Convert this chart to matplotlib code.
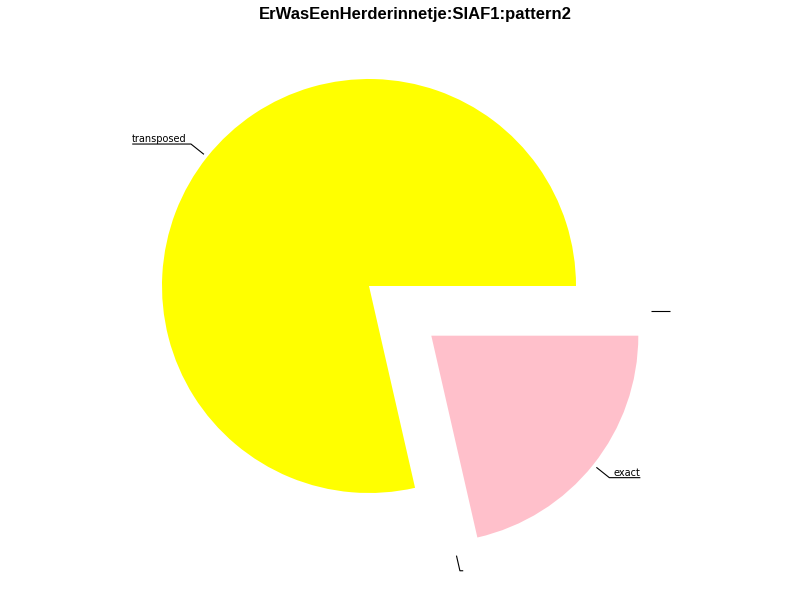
import numpy as np
import matplotlib
matplotlib.use("Agg")
import matplotlib.pyplot as plt

# ---- data ----
title = "ErWasEenHerderinnetje:SIAF1:pattern2"
labels = ["transposed", "", "exact", ""]
values = [11, 0, 3, 0]
colors = ["#FFFF00", "#FFFF00", "#FFC0CB", "#FFC0CB"]
explode = [0, 0, 0.385, 0]

PX = 207.0  # pixels per data unit (pie radius)
fig = plt.figure(figsize=(8, 6), dpi=100)
ax = fig.add_axes([0, 0, 1, 1])
wedges, _ = ax.pie(values, labels=None, colors=colors, explode=explode,
                   startangle=0, counterclock=True, radius=1.0,
                   wedgeprops=dict(linewidth=0))
ax.set_aspect("auto")
ax.set_xlim(-369 / PX, 431 / PX)
ax.set_ylim(-314 / PX, 286 / PX)
ax.axis("off")

fig.text(415 / 800, 1 - 18.5 / 600, title, ha="center", va="baseline",
         fontsize=12, fontweight="bold",
         family=["Liberation Sans", "DejaVu Sans"])

# mid angles of each slice
total = float(sum(values))
bounds = np.concatenate([[0], np.cumsum(values)]) / total * 360.0
mids = (bounds[:-1] + bounds[1:]) / 2.0
exp_idx = int(np.argmax(explode))
exp_mag = explode[exp_idx]

renderer = fig.canvas.get_renderer()
pad, lift = 0.02, 0.01
for i, (lab, ang) in enumerate(zip(labels, mids)):
    if values[i] == 0:
        d, e = (ang + mids[exp_idx]) / 2.0, exp_mag * 0.96
        r_start, r_elbow, p = 1.015, 1.09, 0.016
    else:
        d, e = ang, explode[i]
        r_start, r_elbow, p = 1.02, 1.1, pad
    cx = e * np.cos(np.radians(d))
    cy = e * np.sin(np.radians(d))
    ca, sa = np.cos(np.radians(ang)), np.sin(np.radians(ang))
    x0, y0 = cx + r_start * ca, cy + r_start * sa
    x1, y1 = cx + r_elbow * ca, cy + r_elbow * sa
    side = 1 if ca >= -1e-9 else -1
    tx = x1 + side * p
    t = ax.text(tx, y1 + lift, lab, ha="left" if side > 0 else "right",
                va="baseline", fontsize=7, color="black")
    w = 0.0
    if lab:
        bb = t.get_window_extent(renderer=renderer)
        w = bb.width / PX
    x2 = tx + side * w
    ax.plot([x0, x1, x2], [y0, y1, y1], color="black", lw=0.8,
            solid_capstyle="butt", clip_on=False)

fig.savefig("out.png", dpi=100)
